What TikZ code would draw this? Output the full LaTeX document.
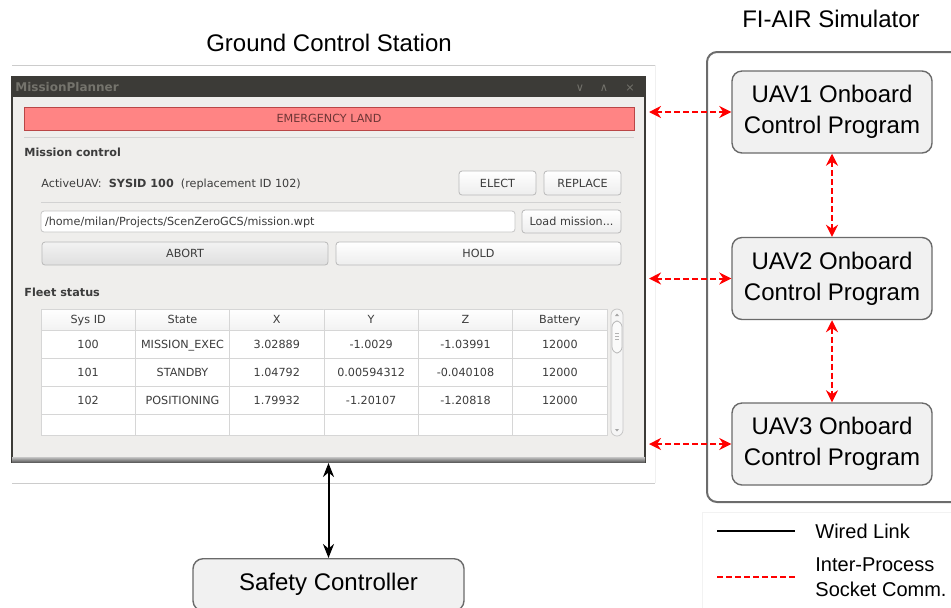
\documentclass[tikz,border=0pt]{standalone}
\usepackage{fontspec}
\setmainfont{Liberation Sans}
\newfontfamily\uifont{DejaVu Sans}
\usetikzlibrary{positioning,arrows.meta,calc}

\definecolor{winbg}{HTML}{EFEEEC}
\definecolor{titlebar}{HTML}{3C3B37}
\definecolor{titletxt}{HTML}{74736C}
\definecolor{emred}{HTML}{FF8484}
\definecolor{emtxt}{HTML}{6E3636}
\definecolor{uitxt}{HTML}{3C3C3C}
\definecolor{boxfill}{HTML}{F1F1F1}
\definecolor{boxline}{HTML}{6A6A6A}
\definecolor{gridc}{HTML}{D6D6D6}

\tikzset{
  prog/.style={draw=boxline, line width=0.7pt, fill=boxfill, rounded corners=5pt,
    minimum width=100pt, minimum height=41pt, align=center,
    font=\fontsize{12}{15.5}\selectfont},
  ipc/.style={red, line width=1pt, dash pattern=on 3pt off 1.5pt,
    {Stealth[length=6pt,width=6pt]}-{Stealth[length=6pt,width=6pt]}},
  wired/.style={black, line width=1pt,
    {Stealth[length=7pt,width=5.5pt]}-{Stealth[length=7pt,width=5.5pt]}},
  ui/.style={font=\uifont\fontsize{5.6}{6.7}\selectfont, text=uitxt, inner sep=0pt,
    text height=4.1pt, text depth=0pt},
  uibold/.style={ui, font=\uifont\bfseries\fontsize{5.6}{6.7}\selectfont},
  btn/.style={ui, draw=gray!55, rounded corners=1.5pt, top color=white,
    bottom color=gray!14, minimum height=12pt},
  cell/.style={ui, draw=gridc, fill=white, minimum width=47.17pt, minimum height=14pt},
  hdr/.style={cell, minimum height=10.5pt, top color=white, bottom color=gray!10},
  sepline/.style={gray!35, line width=0.5pt},
  legtext/.style={anchor=west, inner sep=0pt, align=left, font=\fontsize{10}{12.5}\selectfont}
}

\begin{document}
\begin{tikzpicture}[x=0.5pt,y=-0.5pt]
  \useasboundingbox (0,0) rectangle (951,607);

  % titles
  \node[font=\fontsize{12}{14}\selectfont] (gcstitle) at (329,43) {Ground Control Station};
  \node[font=\fontsize{12}{14}\selectfont] (simtitle) at (831,19) {FI-AIR Simulator};

  % screenshot frame
  \draw[gray!40, line width=0.5pt] (12,65) -- (655,65);
  \draw[gray!40, line width=0.5pt] (12,483) -- (655,483);
  \draw[gray!12, line width=0.5pt] (655,65) -- (655,483);

  % the window
  \node[draw=titlebar, line width=1pt, fill=winbg, minimum width=316.5pt,
    minimum height=192.5pt, inner sep=0pt] (gcs) at (328.5,269.5) {};
  \fill[titlebar] (12,77) rectangle (645,97);
  \shade[top color=gray!45, bottom color=gray!75!black] (12,457) rectangle (645,462);
  \node[ui, font=\uifont\bfseries\fontsize{6}{7}\selectfont, text=titletxt, anchor=west]
    (wintitle) at (15,87) {MissionPlanner};
  \node[ui, text=titletxt] (wmin) at (580,87) {∨};
  \node[ui, text=titletxt] (wmax) at (604,87) {∧};
  \node[ui, text=titletxt] (wclose) at (630,87) {×};

  \node[ui, draw=red!45!gray, fill=emred, minimum width=305pt, minimum height=11.5pt,
    text=emtxt] (emerg) at (329,118.5) {EMERGENCY LAND};
  \draw[sepline] (24,137) -- (634,137);

  \node[uibold, anchor=west] (mctl) at (24,152) {Mission control};
  \node[ui, anchor=west] (active) at (41,183)
    {ActiveUAV:\ \ \textbf{SYSID 100}\ \ (replacement ID 102)};
  \node[btn, minimum width=38.5pt] (elect) at (497.5,183) {ELECT};
  \node[btn, minimum width=38.5pt] (replace) at (582.5,183) {REPLACE};
  \draw[sepline] (41,202) -- (621,202);

  \node[ui, draw=gray!45, fill=white, rounded corners=1.5pt, minimum width=237pt,
    minimum height=10.5pt, text width=233pt, align=left] (path) at (278,221.5)
    {/home/milan/Projects/ScenZeroGCS/mission.wpt};
  \node[btn, minimum width=49.5pt, minimum height=11.5pt] (load) at (571.5,221.5) {Load mission...};
  \node[btn, minimum width=143pt, minimum height=11.5pt, top color=gray!10,
    bottom color=gray!25] (abort) at (185,253.5) {ABORT};
  \node[btn, minimum width=142.5pt, minimum height=11.5pt] (hold) at (478.5,253.5) {HOLD};

  \node[uibold, anchor=west] (fleet) at (24,292) {Fleet status};

  % fleet table
  \foreach \lab [count=\i] in {Sys ID,State,X,Y,Z,Battery}
    \node[hdr] (h\i) at ({41+94.33*(\i-0.5)},319.5) {\lab};
  \foreach \row [count=\r] in {{100,MISSION\_EXEC,3.02889,-1.0029,-1.03991,12000},
      {101,STANDBY,1.04792,0.00594312,-0.040108,12000},
      {102,POSITIONING,1.79932,-1.20107,-1.20818,12000}}
    \foreach \val [count=\c] in \row
      \node[cell] (c\r-\c) at ({41+94.33*(\c-0.5)},{330+28*(\r-0.5)}) {\val};
  \foreach \c in {1,...,6}
    \node[cell, minimum height=10.5pt] (e\c) at ({41+94.33*(\c-0.5)},425) {};

  % scroll bar
  \draw[gray!45, fill=gray!8, rounded corners=3pt] (611,309) rectangle (623,436);
  \draw[gray!55, fill=gray!4, rounded corners=3pt] (612,321) rectangle (622,353);
  \draw[gray!60, line width=0.3pt] (615,333) -- (619,333) (615,336) -- (619,336) (615,339) -- (619,339);
  \fill[gray!70] (615,316) -- (619,316) -- (617,313.5) -- cycle;
  \fill[gray!70] (615,429) -- (619,429) -- (617,431.5) -- cycle;

  % simulator side
  \node[draw=gray!85!black, line width=1pt, rounded corners=5pt, minimum width=129pt,
    minimum height=225pt, inner sep=0pt] (sim) at (836,277) {};
  \node[prog] (uav1) at (832,112) {UAV1 Onboard\\Control Program};
  \node[prog] (uav2) at (832,278.5) {UAV2 Onboard\\Control Program};
  \node[prog] (uav3) at (832,444) {UAV3 Onboard\\Control Program};

  \node[prog, minimum width=135.5pt, minimum height=26pt, anchor=north] (safety)
    at (328.5,558) {Safety Controller};

  % links
  \draw[ipc, shorten <=1.5pt] (gcs.east |- uav1.west) -- (uav1.west);
  \draw[ipc, shorten <=1.5pt] (gcs.east |- uav2.west) -- (uav2.west);
  \draw[ipc, shorten <=1.5pt] (gcs.east |- uav3.west) -- (uav3.west);
  \draw[ipc] (uav1) -- (uav2);
  \draw[ipc] (uav2) -- (uav3);
  \draw[wired] (gcs) -- (safety);

  % legend
  \draw[gray!10, line width=0.5pt] (702,612) -- (702,512) -- (960,512);
  \coordinate (lw1) at (717,531);
  \coordinate (lw2) at (795,531);
  \coordinate (lp1) at (717,577);
  \coordinate (lp2) at (795,577);
  \draw[line width=1pt] (lw1) -- (lw2);
  \draw[red, line width=1pt, dash pattern=on 3pt off 1.5pt] (lp1) -- (lp2);
  \node[legtext] (lwired) at (815,531) {Wired Link};
  \node[legtext] (lipc) at (815,577.5) {Inter-Process\\Socket Comm.};
\end{tikzpicture}
\end{document}
